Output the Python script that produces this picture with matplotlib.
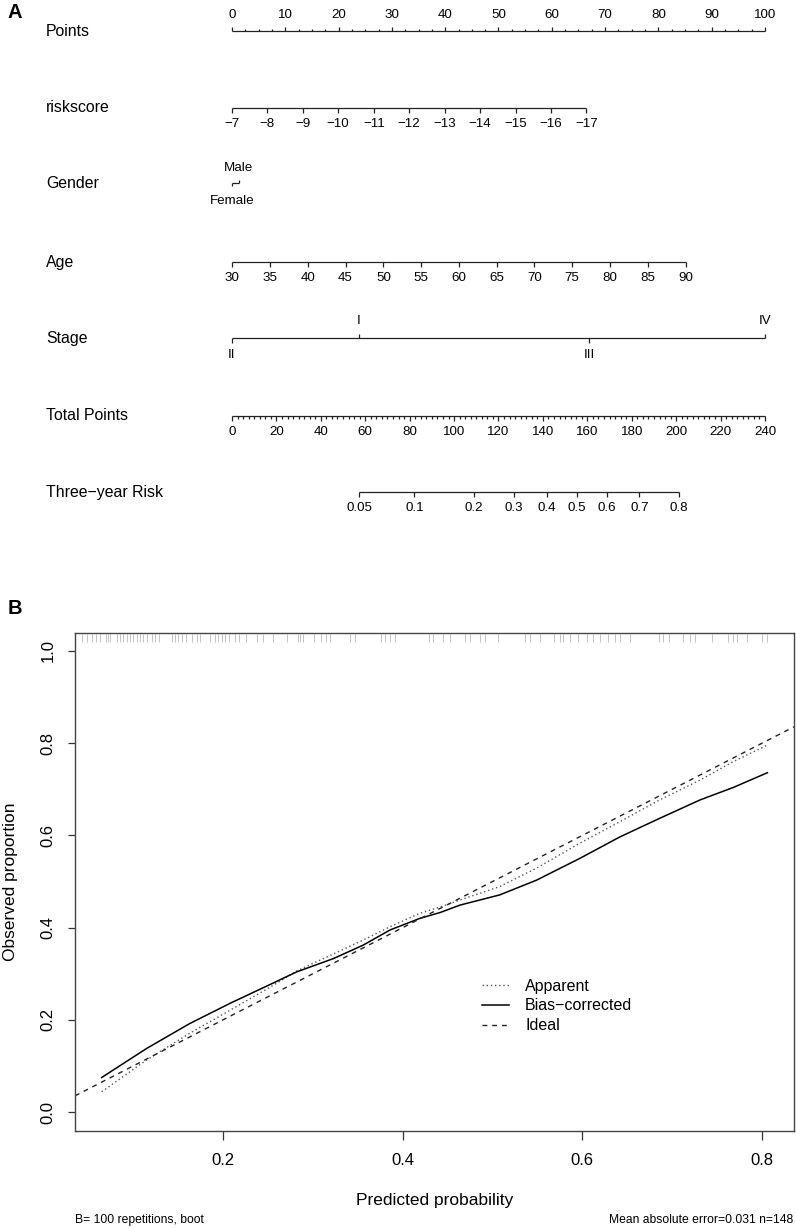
import matplotlib
matplotlib.use('Agg')
import matplotlib.pyplot as plt
from matplotlib.transforms import blended_transform_factory

plt.rcParams['font.family'] = ['Liberation Sans', 'DejaVu Sans']

# ---- nomogram scales (values and the points) ----
points_ticks = [0, 10, 20, 30, 40, 50, 60, 70, 80, 90, 100]

riskscore_vals = [-7, -8, -9, -10, -11, -12, -13, -14, -15, -16, -17]
riskscore_pts = [0, 6.6, 13.3, 19.9, 26.6, 33.2, 39.9, 46.5, 53.2, 59.8, 66.5]

gender_labels = ['Female', 'Male']
gender_pts = [0, 1.3]

age_vals = [30, 35, 40, 45, 50, 55, 60, 65, 70, 75, 80, 85, 90]
age_pts = [0, 7.1, 14.2, 21.3, 28.4, 35.5, 42.6, 49.7, 56.7, 63.8, 70.9, 78.0, 85.1]

stage_labels = ['II', 'I', 'III', 'IV']
stage_pts = [0, 23.8, 67.0, 100]

total_ticks = [0, 20, 40, 60, 80, 100, 120, 140, 160, 180, 200, 220, 240]
total_max = 240

risk_vals = [0.05, 0.1, 0.2, 0.3, 0.4, 0.5, 0.6, 0.7, 0.8]
risk_total = [57.2, 82.1, 109.0, 127.0, 141.7, 155.2, 168.9, 183.4, 201.3]

# ---- calibration curves ----
pred = [0.065, 0.115, 0.163, 0.208, 0.256, 0.282, 0.323, 0.356, 0.386, 0.419,
        0.442, 0.464, 0.508, 0.549, 0.597, 0.642, 0.686, 0.731, 0.768, 0.806]
apparent = [0.044, 0.113, 0.171, 0.221, 0.275, 0.306, 0.343, 0.373, 0.402, 0.431,
            0.445, 0.460, 0.489, 0.529, 0.583, 0.630, 0.677, 0.720, 0.760, 0.796]
bias_corrected = [0.075, 0.138, 0.192, 0.236, 0.280, 0.304, 0.333, 0.362, 0.395, 0.420,
                  0.433, 0.449, 0.471, 0.503, 0.550, 0.597, 0.637, 0.677, 0.704, 0.736]

rug = [0.043, 0.049, 0.054, 0.059, 0.063, 0.070, 0.072, 0.074, 0.082, 0.085,
       0.089, 0.093, 0.096, 0.100, 0.104, 0.108, 0.111, 0.115, 0.121, 0.124,
       0.129, 0.143, 0.147, 0.150, 0.154, 0.159, 0.165, 0.171, 0.174, 0.186,
       0.191, 0.195, 0.199, 0.202, 0.207, 0.213, 0.218, 0.226, 0.238, 0.245,
       0.256, 0.271, 0.283, 0.286, 0.289, 0.301, 0.309, 0.315, 0.319, 0.341,
       0.347, 0.376, 0.380, 0.386, 0.391, 0.429, 0.434, 0.445, 0.453, 0.469,
       0.475, 0.486, 0.492, 0.506, 0.536, 0.542, 0.553, 0.568, 0.575, 0.579,
       0.586, 0.595, 0.605, 0.612, 0.620, 0.629, 0.636, 0.642, 0.653, 0.685,
       0.690, 0.697, 0.712, 0.720, 0.725, 0.744, 0.762, 0.768, 0.772, 0.783,
       0.800, 0.805]

W, H = 796, 1228
fig = plt.figure(figsize=(W / 100, H / 100), dpi=100)

# ================= panel A : nomogram =================
px_per_pt = 533 / 100
axa = fig.add_axes([0, 1 - 590 / H, 1, 590 / H])
axa.set_xlim(-232 / px_per_pt, (W - 232) / px_per_pt)
axa.set_ylim(590, 0)
axa.axis('off')
lab_tr = blended_transform_factory(axa.transAxes, axa.transData)
lc = '#222222'
lw = 0.9
fs_tick = 9.6


def hline(y, x0, x1):
    axa.plot([x0, x1], [y, y], color=lc, lw=lw, solid_capstyle='butt')


def tick(x, y, length):
    axa.plot([x, x], [y, y + length], color=lc, lw=lw, solid_capstyle='butt')


def row_label(y, text):
    axa.text(46 / W, y, text, transform=lab_tr, ha='left', va='center', fontsize=11.4)


# Points
y = 31
hline(y, 0, 100)
for p in points_ticks:
    tick(p, y, -4.5)
    axa.text(p, 15, str(p), ha='center', va='center', fontsize=fs_tick)
m = 0
while m <= 100:
    if m % 10 != 0:
        tick(m, y, -2.5)
    m += 2.5
row_label(y, 'Points')

# riskscore
y = 108
hline(y, riskscore_pts[0], riskscore_pts[-1])
for v, p in zip(riskscore_vals, riskscore_pts):
    tick(p, y, 4.5)
    axa.text(p, 124, str(v).replace('-', '\u2212'), ha='center', va='center', fontsize=fs_tick)
row_label(y, 'riskscore')

# Gender
y = 183
hline(y, gender_pts[0], gender_pts[1])
tick(gender_pts[0], y, 3)
tick(gender_pts[1], y, -3)
axa.text(gender_pts[1], 168, gender_labels[1], ha='center', va='center', fontsize=fs_tick)
axa.text(gender_pts[0], 201, gender_labels[0], ha='center', va='center', fontsize=fs_tick)
row_label(y, 'Gender')

# Age
y = 262
hline(y, age_pts[0], age_pts[-1])
for v, p in zip(age_vals, age_pts):
    tick(p, y, 4.5)
    axa.text(p, 278, str(v), ha='center', va='center', fontsize=fs_tick)
row_label(y, 'Age')

# Stage
y = 338
hline(y, min(stage_pts), max(stage_pts))
for s, p in zip(stage_labels, stage_pts):
    up = s in ('I', 'IV')
    tick(p, y, -4.5 if up else 4.5)
    axa.text(p, 321 if up else 355, s, ha='center', va='center', fontsize=fs_tick)
row_label(y, 'Stage')

# Total Points
y = 416
hline(y, 0, 100)
for t in total_ticks:
    tick(t / total_max * 100, y, 4.5)
    axa.text(t / total_max * 100, 432, str(t), ha='center', va='center', fontsize=fs_tick)
m = 0
while m <= total_max:
    if m % 20 != 0:
        tick(m / total_max * 100, y, 2.5)
    m += 2.5
row_label(y, 'Total Points')

# Three-year Risk
y = 492
rx = [t / total_max * 100 for t in risk_total]
hline(y, rx[0], rx[-1])
for v, p in zip(risk_vals, rx):
    tick(p, y, 4.5)
    axa.text(p, 508, str(v), ha='center', va='center', fontsize=fs_tick)
row_label(y, 'Three\u2212year Risk')

fig.text(8 / W, 1 - 13 / H, 'A', fontsize=14.5, fontweight='bold', ha='left', va='center')

# ================= panel B : calibration =================
axb = fig.add_axes([75 / W, 1 - 1131 / H, 719 / W, 498 / H])
axb.plot(pred, apparent, color='#555555', lw=1.0, ls=(0, (1, 2)), label='Apparent')
axb.plot(pred, bias_corrected, color='black', lw=1.1, label='Bias\u2212corrected')
axb.axline((0, 0), (1, 1), color='#222222', lw=1.0, ls=(0, (3.5, 3.5)), label='Ideal')
rug_tr = blended_transform_factory(axb.transData, axb.transAxes)
axb.vlines(rug, 0.982, 0.997, transform=rug_tr, color='#bbbbbb', lw=0.6)

axb.set_xlim(0.0353, 0.8356)
axb.set_ylim(-0.041, 1.039)
axb.set_xticks([0.2, 0.4, 0.6, 0.8])
axb.set_xticklabels(['0.2', '0.4', '0.6', '0.8'])
axb.set_yticks([0.0, 0.2, 0.4, 0.6, 0.8, 1.0])
axb.set_yticklabels(['0.0', '0.2', '0.4', '0.6', '0.8', '1.0'], rotation=90, va='center')
axb.tick_params(axis='x', length=6.5, width=0.9, pad=9, labelsize=12, color='#333333')
axb.tick_params(axis='y', length=5, width=0.9, pad=9, labelsize=12, color='#333333')
for sp in axb.spines.values():
    sp.set_color('#444444')
    sp.set_linewidth(1.0)
axb.set_xlabel('Predicted probability', fontsize=12.5, labelpad=18)
axb.set_ylabel('Observed proportion', fontsize=12.5, labelpad=16.5)

axb.legend(loc='upper left', bbox_to_anchor=(0.555, 0.322), frameon=False, fontsize=11.5,
           handlelength=1.7, handletextpad=1.0, labelspacing=0.3, borderpad=0)

fig.text(75 / W, 1 - 1220 / H, 'B= 100 repetitions, boot', fontsize=8.7, ha='left', va='center')
fig.text(793 / W, 1 - 1220 / H, 'Mean absolute error=0.031 n=148', fontsize=8.7,
         ha='right', va='center')
fig.text(8 / W, 1 - 608 / H, 'B', fontsize=14.5, fontweight='bold', ha='left', va='center')

fig.savefig('out.png', dpi=100)
